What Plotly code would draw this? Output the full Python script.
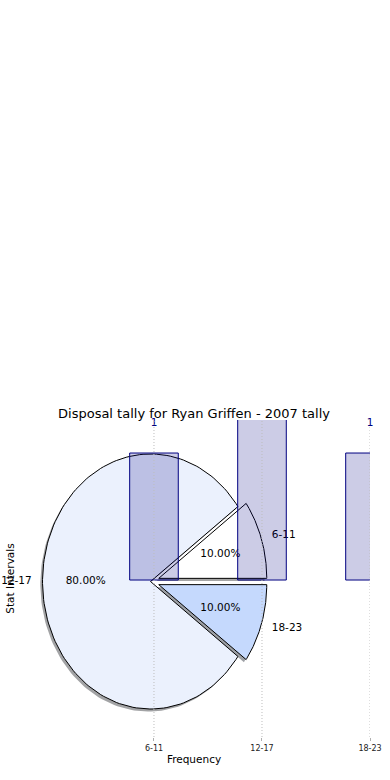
import numpy as np
import plotly.graph_objects as go

# ---- data ----
categories = ["6-11", "12-17", "18-23"]
counts = [1, 8, 1]
tick_labels = ["6-11", "12-17", "18-23"]
pie_colors = ["#FFFFFF", "#EBF1FD", "#C5D9FD"]
explode = [0.08, 0.0, 0.08]
title_text = "Disposal tally for Ryan Griffen - 2007 tally"
x_title = "Frequency"
y_title = "Stat Intervals"

FONT = "DejaVu Sans"
W, H = 390, 780
# bar axes ranges
XR = [-1.259, 2.0]
YR = [-1.236, 1.26]
# pie axes ranges (unit circle -> ellipse on screen)
PIE_XR = [-1.227, 2.032]
PIE_YR = [-1.2196, 1.2667]

fig = go.Figure()

total = float(sum(counts))
fracs = [c / total for c in counts]


def shadow_color(hexc):
    r, g, b = int(hexc[1:3], 16), int(hexc[3:5], 16), int(hexc[5:7], 16)
    return f"rgba({int(0.3*r)},{int(0.3*g)},{int(0.3*b)},0.5)"


wedges = []
start = 0.0
for frac, ex in zip(fracs, explode):
    a0, a1 = start * 360.0, (start + frac) * 360.0
    mid = np.radians((a0 + a1) / 2.0)
    cx, cy = ex * np.cos(mid), ex * np.sin(mid)
    th = np.radians(np.linspace(a0, a1, 160))
    xs = np.concatenate([[cx], cx + np.cos(th), [cx]])
    ys = np.concatenate([[cy], cy + np.sin(th), [cy]])
    wedges.append((xs, ys, cx, cy, mid, frac))
    start += frac

# shadows
for (xs, ys, cx, cy, mid, frac), col in zip(wedges, pie_colors):
    fig.add_trace(go.Scatter(x=xs - 0.02, y=ys - 0.02, mode="lines", fill="toself",
                             fillcolor=shadow_color(col), line=dict(width=0),
                             hoverinfo="skip", showlegend=False))
# wedges
for (xs, ys, cx, cy, mid, frac), col in zip(wedges, pie_colors):
    fig.add_trace(go.Scatter(x=xs, y=ys, mode="lines", fill="toself",
                             fillcolor=col, line=dict(color="black", width=1),
                             hoverinfo="skip", showlegend=False))
# labels
for (xs, ys, cx, cy, mid, frac), lab in zip(wedges, categories):
    lx, ly = cx + 1.1 * np.cos(mid), cy + 1.1 * np.sin(mid)
    pos = "middle right" if lx > 0 else "middle left"
    fig.add_trace(go.Scatter(x=[lx], y=[ly], mode="text", text=[lab], textposition=pos,
                             textfont=dict(family=FONT, size=10.5, color="black"),
                             cliponaxis=False, hoverinfo="skip", showlegend=False))
    px_, py_ = cx + 0.6 * np.cos(mid), cy + 0.6 * np.sin(mid)
    fig.add_trace(go.Scatter(x=[px_], y=[py_], mode="text", text=[f"{frac*100:.2f}%"],
                             textposition="middle center",
                             textfont=dict(family=FONT, size=10.5, color="black"),
                             cliponaxis=False, hoverinfo="skip", showlegend=False))

# bars on overlaid axes
xpos = list(range(len(categories)))
fig.add_trace(go.Bar(x=xpos, y=counts, width=0.45, xaxis="x2", yaxis="y2",
                     marker=dict(color="rgba(0,0,128,0.2)", line=dict(color="#000080", width=1)),
                     hoverinfo="skip", showlegend=False))
label_y = [c + 0.23 for c in counts]
label_txt = [str(c) if ly <= YR[1] + 0.02 else "" for c, ly in zip(counts, label_y)]
fig.add_trace(go.Scatter(x=xpos, y=[min(ly, YR[1]) for ly in label_y], mode="text",
                         text=label_txt, textposition="middle center",
                         textfont=dict(family=FONT, size=10.5, color="#000080"),
                         xaxis="x2", yaxis="y2", cliponaxis=False,
                         hoverinfo="skip", showlegend=False))

for i in xpos:
    fig.add_shape(type="line", xref="x2", yref="paper", x0=i, x1=i, y0=0, y1=1,
                  line=dict(color="#bdbdbd", width=1, dash="1px,2px"), layer="above")

fig.update_layout(
    width=W, height=H,
    margin=dict(l=18, r=20, t=420, b=43, autoexpand=False),
    paper_bgcolor="white", plot_bgcolor="white",
    font=dict(family=FONT, color="black"),
    hovermode=False,
    title=dict(text=title_text, x=0.5, xref="paper", y=1 - 413 / H, yref="container",
               yanchor="middle", xanchor="center", font=dict(size=13, family=FONT, color="black")),
    xaxis=dict(range=PIE_XR, visible=False),
    yaxis=dict(range=PIE_YR, visible=False),
    xaxis2=dict(range=XR, overlaying="x", side="bottom", tickvals=xpos, ticktext=tick_labels,
                showgrid=False, zeroline=False, showline=False, ticks="outside", ticklen=3,
                tickcolor="#b0b0b0", tickfont=dict(size=8, family=FONT, color="#222"),
                title=dict(text=x_title, font=dict(size=10.5, family=FONT), standoff=4)),
    yaxis2=dict(range=YR, overlaying="y", side="left", showgrid=False, zeroline=False,
                showline=False, showticklabels=False, ticks="",
                title=dict(text=y_title, font=dict(size=10.5, family=FONT), standoff=0)),
)

fig.write_html("out.html", config={"displayModeBar": False},
               post_script="document.body.style.margin='0px';")
